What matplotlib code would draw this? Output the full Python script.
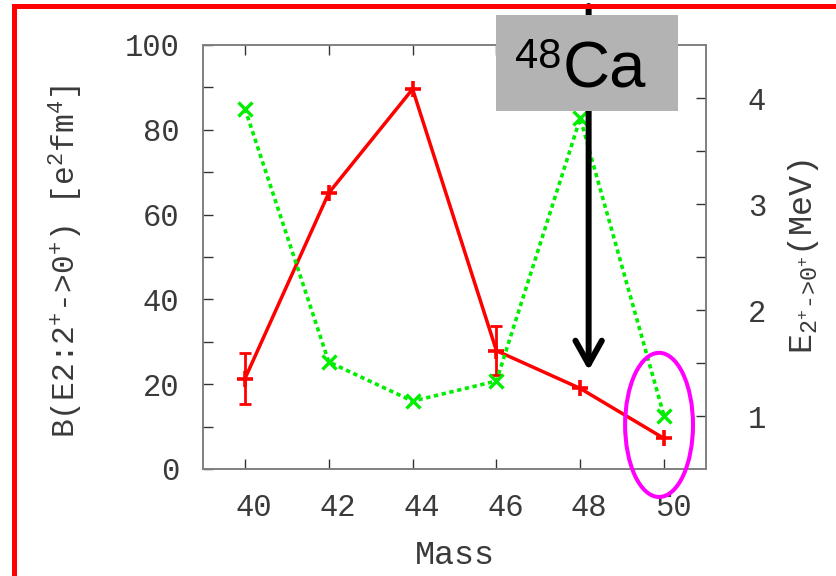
import matplotlib
matplotlib.use("Agg")
import matplotlib.pyplot as plt
import matplotlib.transforms as mtransforms
from matplotlib.patches import Ellipse, Rectangle
import numpy as np

# Calcium isotopes: B(E2) transition strength and first 2+ excitation energy
mass = [40, 42, 44, 46, 48, 50]
be2 = [21.3, 65.1, 89.6, 27.9, 19.0, 7.2]          # e^2 fm^4
be2_err = [6.0, 0.0, 0.0, 5.8, 0.0, 0.0]            # e^2 fm^4
e2plus = [3.90, 1.51, 1.14, 1.33, 3.81, 1.00]       # MeV

x_ticks = [40, 42, 44, 46, 48, 50]
b_ticks = [0, 20, 40, 60, 80, 100]
b_minor = [10, 30, 50, 70, 90]
e_ticks = [1, 2, 3, 4]
e_minor = [1.5, 2.5, 3.5]

arrow_mass = 48.2        # where the 48Ca arrow points
arrow_tip_e = 1.43       # arrow tip height on the energy axis
ring_center = (49.88, 10.4)
ring_size = (1.62, 34.0)

W, H = 837, 576
plt.rcParams["font.family"] = ["Liberation Mono", "DejaVu Sans"]
plt.rcParams["mathtext.fontset"] = "custom"
plt.rcParams["mathtext.rm"] = "Liberation Mono"
plt.rcParams["mathtext.it"] = "Liberation Mono"
plt.rcParams["mathtext.default"] = "regular"

fig = plt.figure(figsize=(W / 100, H / 100), dpi=100)
fig.patch.set_facecolor("white")

ax_l, ax_r, ax_t, ax_b = 203, 706, 45, 469
ax = fig.add_axes([ax_l / W, 1 - ax_b / H, (ax_r - ax_l) / W, (ax_b - ax_t) / H])
ax2 = ax.twinx()

tick_col = "#3a3a3a"
spine_col = "#808080"

# B(E2) series
mass_a = np.array(mass)
be2_a = np.array(be2)
err_a = np.array(be2_err)
has_err = err_a > 0
ax.plot(mass, be2, color="#ff0000", lw=2.5, marker="+", ms=11, mew=2.6, zorder=3)
ax.errorbar(mass_a[has_err], be2_a[has_err], yerr=err_a[has_err], fmt="none",
            ecolor="#ff0000", elinewidth=2.0, capsize=4, capthick=2.0, zorder=3)

# E(2+) series
ax2.plot(mass, e2plus, color="#00ee00", lw=2.6, ls=(0, (1.2, 1.0)),
         dash_capstyle="butt", marker="x", ms=10, mew=2.4, zorder=3)

ax.set_xlim(39, 51)
ax.set_ylim(0, 100)
ax2.set_ylim(0.5, 4.5)

ax.set_xticks(x_ticks)
ax.set_yticks(b_ticks)
ax.set_yticks(b_minor, minor=True)
ax2.set_yticks(e_ticks)
ax2.set_yticks(e_minor, minor=True)

for a in (ax, ax2):
    for sp in a.spines.values():
        sp.set_color(spine_col)
        sp.set_linewidth(1.2)

ax.tick_params(which="both", direction="in", length=7, width=1.0, color="#333333",
               top=True, right=False, labelsize=22, labelcolor=tick_col)
ax.tick_params(axis="y", pad=17)
ax.tick_params(axis="x", pad=17)
ax2.tick_params(which="both", direction="in", length=7, width=1.0, color="#333333",
                labelsize=22, labelcolor=tick_col, pad=30)

offset = mtransforms.ScaledTranslation(9 / 100, 0, fig.dpi_scale_trans)
for lbl in ax.get_xticklabels():
    lbl.set_transform(lbl.get_transform() + offset)

ax.set_xlabel("Mass", fontsize=24, color=tick_col)
ax.xaxis.set_label_coords(0.5, -(556 - ax_b) / (ax_b - ax_t))
ax.xaxis.label.set_va("center")

ax.set_ylabel(r"B(E2:2$^{+}$->0$^{+}$) [e$^{2}$fm$^{4}$]", fontsize=22.5, color=tick_col, va="center")
ax.yaxis.set_label_coords((66 - ax_l) / (ax_r - ax_l), (ax_b - 262) / (ax_b - ax_t))

ax2.set_ylabel(r"E$_{2^{+}\text{->}0^{+}}$(MeV)", fontsize=24, color=tick_col,
               va="center", rotation=90)
ax2.yaxis.set_label_coords((804 - ax_l) / (ax_r - ax_l), (ax_b - 256) / (ax_b - ax_t))

# Highlight ring around the heaviest isotope
ring = Ellipse(ring_center, ring_size[0], ring_size[1], transform=ax.transData,
               fill=False, edgecolor="#ff00ff", lw=2.9, clip_on=False, zorder=4)
ax2.add_patch(ring)

# Arrow marking 48Ca
ax2.annotate("", xy=(arrow_mass, arrow_tip_e), xycoords="data",
             xytext=(arrow_mass, 1 - 6 / H), textcoords=("data", "figure fraction"),
             arrowprops=dict(arrowstyle="->,head_length=1.7,head_width=0.95",
                             color="black", lw=4.3, shrinkA=0, shrinkB=0,
                             mutation_scale=10),
             annotation_clip=False, zorder=5)

# Label box
fig.add_artist(Rectangle((496 / W, 1 - 111 / H), 182 / W, 96 / H,
                         transform=fig.transFigure, facecolor="#b3b3b3",
                         edgecolor="none", zorder=5))
fig.text(563 / W, 1 - 87 / H, "Ca", fontsize=47, family="Liberation Sans",
         ha="left", va="baseline", color="black", zorder=6)
fig.text(561 / W, 1 - 68 / H, "48", fontsize=30, family="Liberation Sans",
         ha="right", va="baseline", color="black", zorder=6)

# Red frame along the left and top edges
fig.add_artist(Rectangle((12 / W, 0), 5.3 / W, 1 - 4 / H, transform=fig.transFigure,
                         facecolor="#ff0000", edgecolor="none", zorder=7))
fig.add_artist(Rectangle((12 / W, 1 - 9.3 / H), 1 - 12 / W, 5.3 / H,
                         transform=fig.transFigure, facecolor="#ff0000",
                         edgecolor="none", zorder=7))

fig.savefig("out.png", dpi=100)
